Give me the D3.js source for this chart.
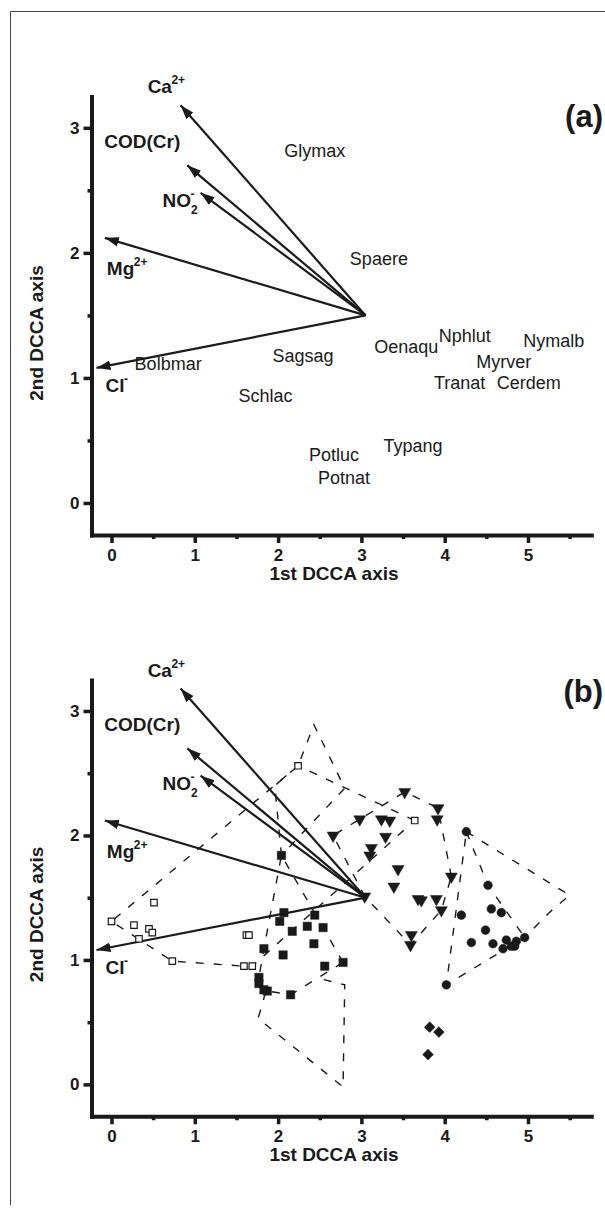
<!DOCTYPE html>
<html>
<head>
<meta charset="utf-8">
<script src="https://cdn.jsdelivr.net/npm/d3@7"></script>
<style>
  body { margin: 0; background: #fff; }
  text { font-family: "Liberation Sans", Arial, sans-serif; fill: #1a1a1a; }
</style>
</head>
<body>
<div id="chart"></div>
<script>
// environmental arrows (same in both panels), all start from one origin
const arrowOrigin = [3.05, 1.50];
const envNames = ["Ca", "COD(Cr)", "NO", "Mg", "Cl"];
const envSup = ["2+", "", "-", "2+", "-"];
const envSub = ["", "", "2", "", ""];
const envTipX = [0.83, 0.91, 1.07, -0.08, -0.18];
const envTipY = [3.18, 2.70, 2.48, 2.12, 1.08];

// species scores, panel (a)
const species = ["Glymax", "Spaere", "Nphlut", "Nymalb", "Oenaqu", "Myrver", "Sagsag",
  "Bolbmar", "Tranat", "Cerdem", "Schlac", "Potluc", "Typang", "Potnat"];
const speciesX = [2.44, 3.21, 4.24, 5.31, 3.54, 4.71, 2.30, 0.68, 4.18, 5.01, 1.85, 2.67, 3.62, 2.79];
const speciesY = [2.82, 1.95, 1.34, 1.30, 1.25, 1.13, 1.18, 1.11, 0.96, 0.96, 0.86, 0.39, 0.46, 0.20];

// site scores, panel (b), one list per group
const openSquares = [[0.00, 1.31], [0.27, 1.28], [0.33, 1.17], [0.45, 1.25], [0.49, 1.22], [0.51, 1.46],
  [0.73, 0.99], [1.62, 1.20], [1.65, 1.20], [1.59, 0.95], [1.69, 0.95], [2.24, 2.56], [3.64, 2.12]];
const filledSquares = [[2.04, 1.84], [2.07, 1.38], [2.02, 1.31], [2.17, 1.23], [2.35, 1.27], [2.44, 1.36],
  [2.54, 1.26], [2.43, 1.13], [1.83, 1.09], [2.06, 1.04], [2.56, 0.95], [2.78, 0.98], [1.77, 0.86],
  [1.77, 0.81], [1.83, 0.76], [1.87, 0.75], [2.15, 0.72]];
const triangles = [[3.52, 2.35], [3.92, 2.22], [2.98, 2.13], [3.24, 2.13], [3.34, 2.12], [3.91, 2.13],
  [2.66, 2.00], [3.29, 1.99], [3.12, 1.90], [3.10, 1.84], [3.44, 1.73], [4.08, 1.67], [3.39, 1.59],
  [3.04, 1.51], [3.68, 1.49], [3.72, 1.48], [3.90, 1.49], [3.96, 1.40], [3.60, 1.20], [3.59, 1.12]];
const circles = [[4.26, 2.03], [4.52, 1.60], [4.20, 1.36], [4.56, 1.41], [4.68, 1.38], [4.49, 1.24],
  [4.32, 1.14], [4.58, 1.13], [4.74, 1.16], [4.70, 1.09], [4.80, 1.11], [4.86, 1.15], [4.84, 1.11],
  [4.96, 1.18], [4.02, 0.80]];
const diamonds = [[3.82, 0.46], [3.93, 0.42], [3.80, 0.24]];

// hand drawn envelopes that are not plain hulls
const upperKite = [[2.04, 1.84], [1.96, 2.40], [2.24, 2.56], [2.43, 2.89], [2.80, 2.38]];
const lowerKite = [[1.85, 0.74], [1.76, 0.53], [2.78, -0.02], [2.80, 0.80], [2.50, 0.85]];
const circleEnvelope = [[4.26, 2.03], [5.50, 1.52], [5.27, 1.39], [4.96, 1.18], [4.02, 0.80]];
const circleInner = [[4.26, 2.03], [4.52, 1.60], [4.96, 1.18]];

const xTicks = [0, 1, 2, 3, 4, 5];
const xMinor = [0.5, 1.5, 2.5, 3.5, 4.5, 5.5];
const yTicks = [0, 1, 2, 3];
const yMinor = [0.5, 1.5, 2.5];

const W = 605, H = 1218;
const svg = d3.select("#chart").append("svg")
  .attr("width", W).attr("height", H);

// outer frame (left and top only are visible)
svg.append("path")
  .attr("d", "M10.5,1205V11.5H605")
  .attr("fill", "none").attr("stroke", "#444").attr("stroke-width", 1);

svg.append("defs").append("marker")
  .attr("id", "head")
  .attr("markerUnits", "userSpaceOnUse")
  .attr("markerWidth", 16).attr("markerHeight", 12)
  .attr("refX", 14).attr("refY", 6)
  .attr("orient", "auto")
  .append("path")
  .attr("d", "M0,1.2L14,6L0,10.8Z")
  .attr("fill", "#1a1a1a");

// pixel offsets of the arrow labels from the arrow tips
const labelOff = [[-33, -12], [-83, -17], [-38, 14], [2, 37], [9, 24]];

function makePanel(y0, y3, label, labelY) {
  const g = svg.append("g");
  const k = (y0 - y3) / 3;
  const x = d3.scaleLinear().domain([-0.24, 5.76]).range([91.5, 591.3]);
  const y = d3.scaleLinear().domain([-0.256, 3.25]).range([y0 + 0.256 * k, y0 - 3.25 * k]);
  const bottom = y.range()[0];

  // axes
  g.append("g").attr("transform", `translate(0,${bottom})`)
    .call(d3.axisBottom(x).tickValues(xTicks).tickFormat(d3.format("d"))
      .tickSizeInner(8).tickSizeOuter(0).tickPadding(6));
  g.append("g").attr("transform", `translate(0,${bottom})`)
    .call(d3.axisBottom(x).tickValues(xMinor).tickFormat("").tickSize(4))
    .select(".domain").remove();
  g.append("g").attr("transform", "translate(91.5,0)")
    .call(d3.axisLeft(y).tickValues(yTicks).tickFormat(d3.format("d"))
      .tickSizeInner(8).tickSizeOuter(0).tickPadding(4));
  g.append("g").attr("transform", "translate(91.5,0)")
    .call(d3.axisLeft(y).tickValues(yMinor).tickFormat("").tickSize(4))
    .select(".domain").remove();

  g.selectAll(".domain").attr("stroke", "#1a1a1a").attr("stroke-width", 4)
    .attr("stroke-linecap", "square");
  g.selectAll(".tick line").attr("stroke", "#1a1a1a").attr("stroke-width", 3.5);
  g.selectAll(".tick text").attr("font-size", 17).attr("font-weight", "bold")
    .attr("fill", "#1a1a1a").style("font-family", '"Liberation Sans", Arial, sans-serif');

  // axis titles
  g.append("text")
    .attr("x", 334).attr("y", bottom + 45)
    .attr("text-anchor", "middle")
    .attr("font-size", 19).attr("font-weight", "bold")
    .text("1st DCCA axis");
  g.append("text")
    .attr("transform", `translate(43,${y0 - 170}) rotate(-90)`)
    .attr("text-anchor", "middle")
    .attr("font-size", 19).attr("font-weight", "bold")
    .text("2nd DCCA axis");

  g.append("text")
    .attr("x", 603).attr("y", labelY)
    .attr("text-anchor", "end")
    .attr("font-size", 31).attr("font-weight", "bold")
    .text(label);

  return { g: g, x: x, y: y };
}

function drawArrows(p) {
  const ox = p.x(arrowOrigin[0]), oy = p.y(arrowOrigin[1]);
  envNames.forEach(function (name, i) {
    const tx = p.x(envTipX[i]), ty = p.y(envTipY[i]);
    p.g.append("line")
      .attr("x1", ox).attr("y1", oy)
      .attr("x2", tx).attr("y2", ty)
      .attr("stroke", "#1a1a1a").attr("stroke-width", 2.2)
      .attr("marker-end", "url(#head)");

    const lx = tx + labelOff[i][0], ly = ty + labelOff[i][1];
    const t = p.g.append("text")
      .attr("x", lx).attr("y", ly)
      .attr("font-size", 19).attr("font-weight", "bold")
      .text(name);
    const w = t.node().getComputedTextLength();
    if (envSub[i]) {
      p.g.append("text")
        .attr("x", lx + w).attr("y", ly + 7)
        .attr("font-size", 12).attr("font-weight", "bold")
        .text(envSub[i]);
    }
    if (envSup[i]) {
      p.g.append("text")
        .attr("x", lx + w - 0.5).attr("y", ly - 9)
        .attr("font-size", 12).attr("font-weight", "bold")
        .text(envSup[i]);
    }
  });
}

// ---- panel (a): species
const pa = makePanel(503, 127.8, "(a)", 127);
drawArrows(pa);
pa.g.selectAll(".species")
  .data(species)
  .join("text")
  .attr("class", "species")
  .attr("x", (d, i) => pa.x(speciesX[i]))
  .attr("y", (d, i) => pa.y(speciesY[i]))
  .attr("dy", "0.35em")
  .attr("text-anchor", "middle")
  .attr("font-size", 18)
  .text(d => d);

// ---- panel (b): sites with envelopes
const pb = makePanel(1084.4, 711, "(b)", 702);
const toPx = pts => pts.map(d => [pb.x(d[0]), pb.y(d[1])]);
const line = d3.line();

const envelopes = pb.g.append("g")
  .attr("fill", "none").attr("stroke", "#1a1a1a")
  .attr("stroke-width", 1.4).attr("stroke-dasharray", "8,10");

[openSquares, filledSquares, triangles].forEach(function (grp) {
  const hull = d3.polygonHull(toPx(grp));
  envelopes.append("path").attr("d", line(hull) + "Z");
});
[upperKite, circleEnvelope].forEach(function (poly) {
  envelopes.append("path").attr("d", line(toPx(poly)) + "Z");
});
[lowerKite, circleInner].forEach(function (poly) {
  envelopes.append("path").attr("d", line(toPx(poly)));
});

drawArrows(pb);

function drawSites(pts, type, size, filled, rot) {
  pb.g.append("g").selectAll("path")
    .data(pts)
    .join("path")
    .attr("d", d3.symbol().type(type).size(size))
    .attr("transform", d => `translate(${pb.x(d[0])},${pb.y(d[1])}) rotate(${rot})`)
    .attr("fill", filled ? "#1a1a1a" : "#fff")
    .attr("stroke", "#1a1a1a")
    .attr("stroke-width", filled ? 0.5 : 1.2);
}
drawSites(openSquares, d3.symbolSquare, 42, false, 0);
drawSites(filledSquares, d3.symbolSquare, 70, true, 0);
drawSites(triangles, d3.symbolTriangle, 62, true, 180);
drawSites(circles, d3.symbolCircle, 60, true, 0);
drawSites(diamonds, d3.symbolSquare, 58, true, 45);
</script>
</body>
</html>
